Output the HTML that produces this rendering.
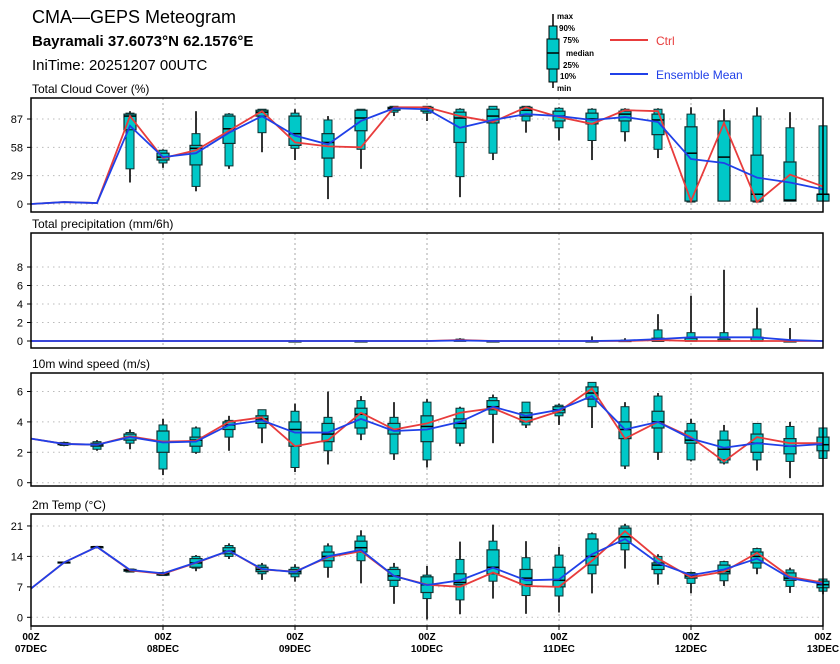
<!DOCTYPE html>
<html><head><meta charset="utf-8"><style>
body{margin:0;background:#fff;}
svg{display:block;font-family:"Liberation Sans",sans-serif;}
</style></head><body>
<svg id="chart" width="840" height="664" viewBox="0 0 840 664" xmlns="http://www.w3.org/2000/svg">
<text x="32" y="23" font-size="18">CMA—GEPS Meteogram</text>
<text x="32" y="46" font-size="15" font-weight="bold">Bayramali 37.6073°N 62.1576°E</text>
<text x="32" y="70" font-size="15">IniTime: 20251207 00UTC</text>
<g font-size="8" font-weight="bold">
<line x1="553" y1="14" x2="553" y2="88" stroke="#000" stroke-width="1.5"/>
<rect x="549" y="26" width="8" height="56" fill="#00c8c8" stroke="#000"/>
<rect x="547" y="39" width="12" height="30" fill="#00c8c8" stroke="#000"/>
<line x1="547" y1="53" x2="559" y2="53" stroke="#000" stroke-width="1.5"/>
<text x="557" y="19">max</text><text x="559" y="31">90%</text><text x="563" y="43">75%</text>
<text x="566" y="56">median</text><text x="563" y="68">25%</text><text x="560" y="79">10%</text><text x="557" y="91">min</text>
</g>
<g><line x1="610" y1="40" x2="648" y2="40" stroke="#e83c3c" stroke-width="2"/><text x="656" y="45" font-size="12" fill="#e83c3c">Ctrl</text></g>
<g><line x1="610" y1="74" x2="648" y2="74" stroke="#2040e8" stroke-width="2"/><text x="656" y="79" font-size="12" fill="#2040e8">Ensemble Mean</text></g>
<g id="plots"></g>
</svg>
<script>
// x-axis categories (6-hourly steps from 07DEC 00Z)
const steps = [0,1,2,3,4,5,6,7,8,9,10,11,12,13,14,15,16,17,18,19,20,21,22,23,24];
const dayLabels = ["07DEC","08DEC","09DEC","10DEC","11DEC","12DEC","13DEC"];
// Cloud cover
const cloudMax = [0,2,1,95,56,95,93,97,97,90,97,100,100,98,100,100,99,98,98,98,99,97,99,94,80];
const cloudP90 = [0,2,1,93,55,72,92,97,93,86,97,100,100,97,100,100,98,97,97,97,92,85,90,78,80];
const cloudP75 = [0,2,1,92,52,60,90,96,90,72,96,99,99,94,97,99,95,93,95,92,79,85,50,43,10];
const cloudMed = [0,2,1,90,48,57,77,94,72,63,88,98,98,88,90,96,90,87,92,86,52,48,10,4,10];
const cloudP25 = [0,2,1,76,45,40,62,90,60,47,75,96,95,63,83,90,85,82,85,71,3,3,3,3,3];
const cloudP10 = [0,2,1,36,42,18,39,73,57,28,56,94,93,28,52,85,78,65,74,56,2,3,2,3,3];
const cloudMin = [0,2,1,22,37,13,36,53,45,5,36,90,85,7,45,73,65,45,64,47,2,3,2,3,3];
const cloudCtrl = [0,2,1,90,47,55,75,95,63,59,58,99,99,90,84,99,89,82,96,95,3,83,2,30,18];
const cloudMean = [0,2,1,80,48,52,73,90,70,61,85,98,97,78,86,92,90,86,89,84,46,42,27,22,15];
// Precipitation
const prMax = [0,0,0,0,0,0,0,0,0.05,0,0.05,0,0,0.3,0.05,0,0,0.5,0.3,2.9,4.9,7.7,3.6,1.4,0];
const prP90 = [0,0,0,0,0,0,0,0,0,0,0,0,0,0.2,0,0,0,0,0.1,1.2,0.9,0.9,1.3,0,0];
const prP75 = [0,0,0,0,0,0,0,0,0,0,0,0,0,0.1,0,0,0,0,0.05,0.3,0.3,0.2,0.4,0,0];
const prMed = [0,0,0,0,0,0,0,0,0,0,0,0,0,0,0,0,0,0,0,0,0,0,0,0,0];
const prP25 = [0,0,0,0,0,0,0,0,0,0,0,0,0,0,0,0,0,0,0,0,0,0,0,0,0];
const prP10 = [0,0,0,0,0,0,0,0,0,0,0,0,0,0,0,0,0,0,0,0,0,0,0,0,0];
const prMin = [0,0,0,0,0,0,0,0,0,0,0,0,0,0,0,0,0,0,0,0,0,0,0,0,0];
const prCtrl = [0,0,0,0,0,0,0,0,0,0,0,0,0,0.1,0,0,0,0,0,0.1,0,0,0,0,0];
const prMean = [0,0,0,0,0,0,0,0,0,0,0,0,0,0.05,0,0,0,0,0.05,0.2,0.4,0.4,0.4,0.1,0];
// Wind
const wMax = [2.9,2.7,2.8,3.5,4.2,3.7,4.4,4.8,5.2,6.0,5.7,5.3,5.5,5.0,5.8,5.3,5.2,6.6,5.3,5.9,4.2,3.8,3.9,4.0,3.6];
const wP90 = [2.9,2.65,2.7,3.3,3.8,3.6,4.1,4.8,4.7,4.3,5.4,4.3,5.3,4.9,5.6,5.3,5.1,6.6,5.0,5.7,3.9,3.4,3.9,3.7,3.6];
const wP75 = [2.9,2.6,2.6,3.2,3.4,3.0,4.0,4.4,4.0,3.9,4.9,3.9,4.4,4.2,5.4,4.6,5.0,6.3,4.0,4.7,3.4,2.8,3.2,2.9,3.0];
const wMed = [2.9,2.55,2.5,3.0,2.7,2.8,3.8,4.2,3.5,3.2,4.5,3.5,3.7,3.9,5.0,4.3,4.8,5.9,3.5,4.0,2.8,2.2,2.6,2.4,2.5];
const wP25 = [2.9,2.5,2.4,2.8,2.0,2.4,3.5,3.9,2.4,2.7,3.6,3.2,2.7,3.6,4.8,4.0,4.6,5.5,2.9,3.6,2.6,1.5,2.0,1.9,2.1];
const wP10 = [2.9,2.45,2.2,2.6,0.9,2.0,3.0,3.6,1.0,2.1,3.2,1.9,1.5,2.6,4.5,3.8,4.4,5.0,1.1,2.0,1.5,1.3,1.5,1.4,1.6];
const wMin = [2.9,2.4,2.1,2.2,0.5,1.9,2.1,2.6,0.7,1.2,2.8,1.5,1.0,2.4,2.6,3.6,3.8,3.6,0.9,1.5,1.4,1.2,0.8,0.3,1.6];
const wCtrl = [2.9,2.55,2.5,3.05,2.7,2.75,4.0,4.3,2.4,2.8,4.6,3.5,3.9,4.6,4.9,4.0,4.7,6.2,2.9,4.0,3.0,1.4,3.0,2.6,2.6];
const wMean = [2.9,2.55,2.5,3.0,2.65,2.7,3.8,4.1,3.3,3.3,4.2,3.4,3.5,4.0,5.0,4.4,4.8,5.7,3.5,4.0,2.9,2.3,2.6,2.4,2.55];
// Temperature
const tMax = [6.6,12.8,16.4,11.2,10.5,14.3,17.0,12.5,12.2,17.0,20.0,12.5,11.8,17.4,21.3,17.5,16.2,19.5,21.5,14.5,10.5,13.0,16.0,11.4,8.9];
const tP90 = [6.6,12.7,16.3,11.1,10.3,14.0,16.5,12.0,11.5,16.4,18.7,11.5,9.7,13.3,17.5,13.7,14.3,19.2,21.0,14.0,10.3,12.8,15.8,10.9,8.8];
const tP75 = [6.6,12.7,16.2,11.0,10.2,13.5,16.0,11.5,11.0,15.0,17.5,11.0,9.3,10.0,15.5,11.0,11.5,18.0,20.5,12.5,10.0,12.0,15.0,10.2,8.3];
const tMed = [6.6,12.6,16.2,10.8,10.0,12.5,15.2,11.0,10.5,14.0,16.0,9.5,7.5,8.0,11.5,9.0,8.5,14.0,18.5,12.0,9.5,10.5,14.0,9.0,7.5];
const tP25 = [6.6,12.5,16.1,10.6,9.7,11.5,14.6,10.5,10.0,13.0,15.0,8.5,5.7,7.5,10.0,7.5,7.0,12.0,17.0,11.0,9.0,10.0,12.5,8.5,6.8];
const tP10 = [6.6,12.5,16.0,10.4,9.6,11.3,14.0,10.0,9.3,11.5,13.0,7.1,4.3,4.0,8.3,5.0,4.9,10.0,15.5,10.0,7.8,8.4,11.3,7.1,6.0];
const tMin = [6.6,12.4,16.0,10.3,9.5,10.6,13.4,8.6,8.2,9.1,7.8,3.1,-0.5,0.7,4.3,0.8,1.1,5.5,11.2,7.5,5.5,7.2,9.9,5.6,5.3];
const tCtrl = [6.6,12.6,16.2,10.8,10.0,12.5,15.3,11.0,10.5,13.8,15.2,9.5,7.5,7.0,10.3,7.2,7.0,13.0,19.8,13.5,9.2,10.5,14.8,9.3,8.0];
const tMean = [6.6,12.6,16.2,10.9,10.1,12.6,15.3,11.1,10.4,14.0,15.5,9.5,7.4,8.5,11.4,8.5,8.7,14.5,18.0,12.5,9.7,11.0,13.5,9.0,7.7];
const cloudTicks = [0,29,58,87];
const prTicks = [0,2,4,6,8];
const wTicks = [0,2,4,6];
const tTicks = [0,7,14,21];

const NS = "http://www.w3.org/2000/svg";
const root = document.getElementById("plots");
const X0 = 31, X1 = 823, STEP = (X1 - X0) / 24;
function xs(i){ return X0 + i * STEP; }
function mk(tag, attrs, parent){ const e = document.createElementNS(NS, tag); for (const k in attrs) e.setAttribute(k, attrs[k]); parent.appendChild(e); return e; }

const panels = [
 {name:"cloud", title:"Total Cloud Cover (%)", top:98, bottom:212, y0:204, ppu:0.977, ticks:cloudTicks,
  mx:cloudMax,p90:cloudP90,p75:cloudP75,md:cloudMed,p25:cloudP25,p10:cloudP10,mn:cloudMin,ctrl:cloudCtrl,mean:cloudMean},
 {name:"precip", title:"Total precipitation (mm/6h)", top:233, bottom:348, y0:341, ppu:9.25, ticks:prTicks,
  mx:prMax,p90:prP90,p75:prP75,md:prMed,p25:prP25,p10:prP10,mn:prMin,ctrl:prCtrl,mean:prMean},
 {name:"wind", title:"10m wind speed (m/s)", top:373, bottom:486, y0:482.7, ppu:15.2, ticks:wTicks,
  mx:wMax,p90:wP90,p75:wP75,md:wMed,p25:wP25,p10:wP10,mn:wMin,ctrl:wCtrl,mean:wMean},
 {name:"temp", title:"2m Temp (°C)", top:514, bottom:626, y0:617.3, ppu:4.35, ticks:tTicks,
  mx:tMax,p90:tP90,p75:tP75,md:tMed,p25:tP25,p10:tP10,mn:tMin,ctrl:tCtrl,mean:tMean}
];

panels.forEach(p => {
  const g = mk("g", {}, root);
  
  
  const ys = v => p.y0 - v * p.ppu;
  const t = mk("text", {x:32, y:p.top - 5, "font-size":12}, g);
  t.textContent = p.title;
  
  
  p.ticks.forEach(v => {
    const gl = mk("line", {x1:X0, x2:X1, y1:ys(v), y2:ys(v), stroke:"#bbb", "stroke-dasharray":"1.5,4"}, g);
    
    
    mk("line", {x1:X0-4, x2:X0, y1:ys(v), y2:ys(v), stroke:"#000"}, g);
    const tl = mk("text", {x:X0-8, y:ys(v)+4, "font-size":11, "text-anchor":"end"}, g);
    tl.textContent = v;
    
    
  });
  for (let d = 1; d < 6; d++) {
    const vl = mk("line", {x1:xs(d*4), x2:xs(d*4), y1:p.top, y2:p.bottom, stroke:"#aaa", "stroke-dasharray":"2,3"}, g);
    
    
  }
  steps.forEach(i => {
    if (p.mx[i] - p.mn[i] <= 0) return;
    const bg = mk("g", {}, g);
    
    
    const x = xs(i);
    mk("line", {x1:x, x2:x, y1:ys(p.mx[i]), y2:ys(p.mn[i]), stroke:"#000", "stroke-width":1.6}, bg);
    mk("rect", {x:x-4, width:8, y:ys(p.p90[i]), height:Math.max(1, ys(p.p10[i]) - ys(p.p90[i])), fill:"#00c8c8", stroke:"#103030", "stroke-width":1}, bg);
    mk("rect", {x:x-6, width:12, y:ys(p.p75[i]), height:Math.max(1, ys(p.p25[i]) - ys(p.p75[i])), fill:"#00c8c8", stroke:"#103030", "stroke-width":1.2}, bg);
    mk("line", {x1:x-6, x2:x+6, y1:ys(p.md[i]), y2:ys(p.md[i]), stroke:"#000", "stroke-width":1.5}, bg);
  });
  const ctrlPts = steps.map(i => xs(i) + "," + ys(p.ctrl[i])).join(" ");
  const c = mk("polyline", {points:ctrlPts, fill:"none", stroke:"#e83c3c", "stroke-width":1.8}, g);
  
  
  const meanPts = steps.map(i => xs(i) + "," + ys(p.mean[i])).join(" ");
  const m = mk("polyline", {points:meanPts, fill:"none", stroke:"#2040e8", "stroke-width":1.8}, g);
  
  
  const f = mk("rect", {x:X0, y:p.top, width:X1-X0, height:p.bottom-p.top, fill:"none", stroke:"#000", "stroke-width":1.5}, g);
  
  
});

dayLabels.forEach((d, k) => {
  const x = xs(k*4);
  mk("line", {x1:x, x2:x, y1:626, y2:630, stroke:"#000"}, root);
  const a = mk("text", {x:x, y:640, "font-size":10, "font-weight":"bold", "text-anchor":"middle"}, root);
  a.textContent = "00Z";
  
  
  const b = mk("text", {x:x, y:652, "font-size":10, "font-weight":"bold", "text-anchor":"middle"}, root);
  b.textContent = d;
  
  
});
</script>
</body></html>
